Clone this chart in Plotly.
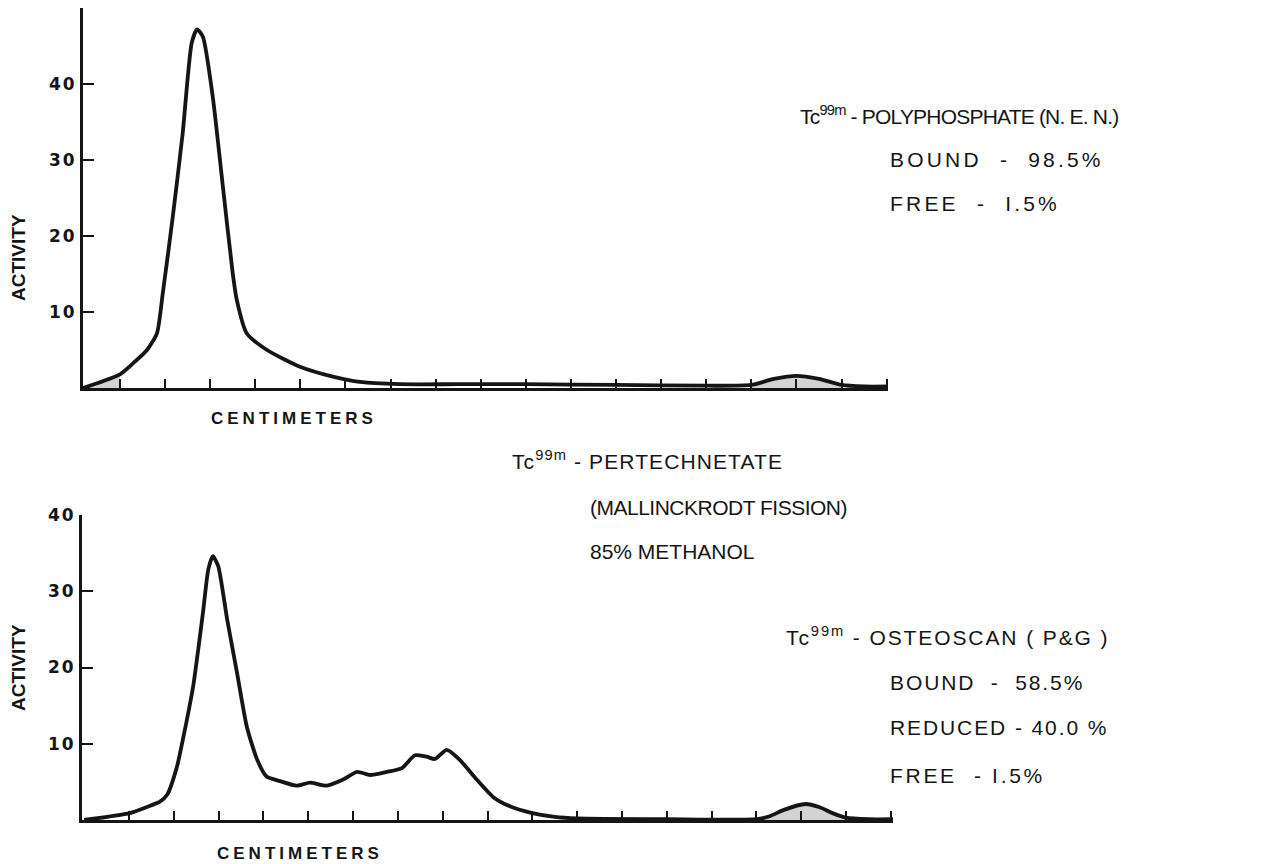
import plotly.graph_objects as go

# ---- data ----
top_cm = [0.18, 1.0, 1.3, 1.6, 1.82, 1.95, 2.17, 2.39, 2.59, 2.71, 2.84, 3.06, 3.28, 3.50, 3.59, 3.81,
          4.26, 4.99, 5.72, 6.32, 7.2, 8.5, 10.0, 12.0, 14.0, 15.0, 15.5, 16.0, 16.5, 17.0, 17.5, 18.03]
top_act = [0.0, 1.8, 3.3, 5.0, 7.2, 12.5, 22.5, 33.5, 45.4, 47.2, 46.2, 38.2, 26.6, 15.1, 11.6, 7.2,
           5.0, 2.8, 1.5, 0.8, 0.5, 0.5, 0.5, 0.4, 0.3, 0.4, 1.2, 1.6, 1.2, 0.4, 0.2, 0.2]

bot_cm = [0.0, 1.02, 1.4, 1.69, 1.85, 2.07, 2.2, 2.43, 2.65, 2.77, 2.87, 2.99, 3.19, 3.41, 3.63, 3.86,
          4.07, 4.37, 4.74, 5.04, 5.41, 5.78, 6.09, 6.38, 6.75, 7.09, 7.38, 7.64, 7.83, 8.09, 8.38,
          8.76, 9.13, 9.5, 10.0, 10.5, 11.0, 13.0, 15.0, 15.3, 15.6, 16.1, 16.4, 16.7, 17.0, 17.5, 18.05]
bot_act = [0.0, 0.9, 1.7, 2.4, 3.3, 7.0, 10.5, 17.5, 27.2, 32.9, 34.6, 33.3, 26.3, 19.3, 12.2, 7.9,
           5.7, 5.1, 4.5, 4.9, 4.5, 5.3, 6.3, 5.9, 6.3, 6.8, 8.5, 8.3, 8.0, 9.2, 7.9,
           5.3, 3.0, 1.8, 0.9, 0.4, 0.2, 0.1, 0.1, 0.5, 1.3, 2.1, 1.7, 0.9, 0.3, 0.1, 0.1]

y_ticks = [10, 20, 30, 40]
y_tick_labels = ["10", "20", "30", "40"]
x_ticks = list(range(1, 19))
shaded_ranges = [(0.0, 1.0), (15.0, 17.0)]

top_label = ["Tc<sup>99m</sup> - POLYPHOSPHATE (N. E. N.)", "BOUND  -  98.5%", "FREE  -  I.5%"]
mid_label = ["Tc<sup>99m</sup> - PERTECHNETATE", "(MALLINCKRODT FISSION)", "85% METHANOL"]
bot_label = ["Tc<sup>99m</sup> - OSTEOSCAN ( P&amp;G )", "BOUND  -  58.5%", "REDUCED - 40.0 %", "FREE  - I.5%"]

W, H = 1286, 864
FONT = "Liberation Sans"
INK = "#151515"
FILL = "rgba(200,200,200,0.8)"


def px(x):
    return x / W


def py(y):
    return 1 - y / H


fig = go.Figure()

panels = [
    (top_cm, top_act, "x", "y"),
    (bot_cm, bot_act, "x2", "y2"),
]
for cm, act, xa, ya in panels:
    for lo, hi in shaded_ranges:
        sx = [c for c in cm if lo - 1e-9 <= c <= hi + 1e-9]
        sy = [a for c, a in zip(cm, act) if lo - 1e-9 <= c <= hi + 1e-9]
        fig.add_trace(go.Scatter(x=sx, y=sy, mode="lines", line=dict(width=0, shape="spline", smoothing=0.6),
                                 fill="tozeroy", fillcolor=FILL, xaxis=xa, yaxis=ya,
                                 hoverinfo="skip", showlegend=False))
    fig.add_trace(go.Scatter(x=cm, y=act, mode="lines", xaxis=xa, yaxis=ya,
                             line=dict(color=INK, width=3.8, shape="spline", smoothing=0.6),
                             showlegend=False))

axis_common = dict(showgrid=False, zeroline=False, showline=True, linecolor=INK, linewidth=3,
                   ticks="inside", tickcolor=INK, tickwidth=2, automargin=False)
tick_font = dict(family="DejaVu Sans", size=17, color=INK, weight="bold")
tick_text = [f'<span style="letter-spacing:2px">{t}</span>' for t in y_tick_labels]

fig.update_layout(
    width=W, height=H, margin=dict(l=0, r=0, t=0, b=0, autoexpand=False),
    paper_bgcolor="white", plot_bgcolor="white",
    xaxis=dict(domain=[px(83), px(888)], range=[0.18, 18.03], tickvals=x_ticks, ticklen=9,
               showticklabels=False, anchor="y", **axis_common),
    yaxis=dict(domain=[py(388), py(8)], range=[0, 50], tickvals=y_ticks, ticktext=tick_text, ticklen=11,
               tickfont=tick_font, anchor="x", **axis_common),
    xaxis2=dict(domain=[px(82), px(893)], range=[-0.05, 18.05], tickvals=x_ticks, ticklen=9,
                showticklabels=False, anchor="y2", **axis_common),
    yaxis2=dict(domain=[py(820), py(515)], range=[0, 40], tickvals=y_ticks, ticktext=tick_text, ticklen=11,
                tickfont=tick_font, anchor="x2", **axis_common),
)


def note(text, x, y, size=21, bold=False, angle=0, xanchor="left", spacing=None):
    if spacing:
        text = f'<span style="letter-spacing:{spacing}px">{text}</span>'
    fig.add_annotation(text=text, x=px(x), y=py(y), xref="paper", yref="paper",
                       xanchor=xanchor, yanchor="middle", showarrow=False, textangle=angle,
                       borderpad=0, borderwidth=0,
                       font=dict(family=FONT, size=size, color=INK, weight="bold" if bold else "normal"))


# axis titles
note("CENTIMETERS", 294, 418, size=17, bold=True, xanchor="center", spacing=4)
note("CENTIMETERS", 300, 853, size=17, bold=True, xanchor="center", spacing=4)
note("ACTIVITY", 18, 258, size=19, bold=True, angle=-90, xanchor="center")
note("ACTIVITY", 18, 668, size=19, bold=True, angle=-90, xanchor="center")

# descriptive labels: (x, y, letter-spacing)
top_pos = [(800, 115, -0.8), (890, 160, 3.2), (890, 203, 3.2)]
mid_pos = [(512, 460, 1.1), (590, 507, -0.5), (590, 551, 0)]
bot_pos = [(786, 636, 1.9), (890, 682, 1.9), (890, 727, 1.9), (890, 775, 2.7)]
for labels, poss in ((top_label, top_pos), (mid_label, mid_pos), (bot_label, bot_pos)):
    for txt, (x, y, sp) in zip(labels, poss):
        note(txt, x, y, spacing=sp if sp else None)

fig.write_html("out.html", config={"displayModeBar": False},
               post_script="document.body.style.margin='0';document.body.style.padding='0';")
